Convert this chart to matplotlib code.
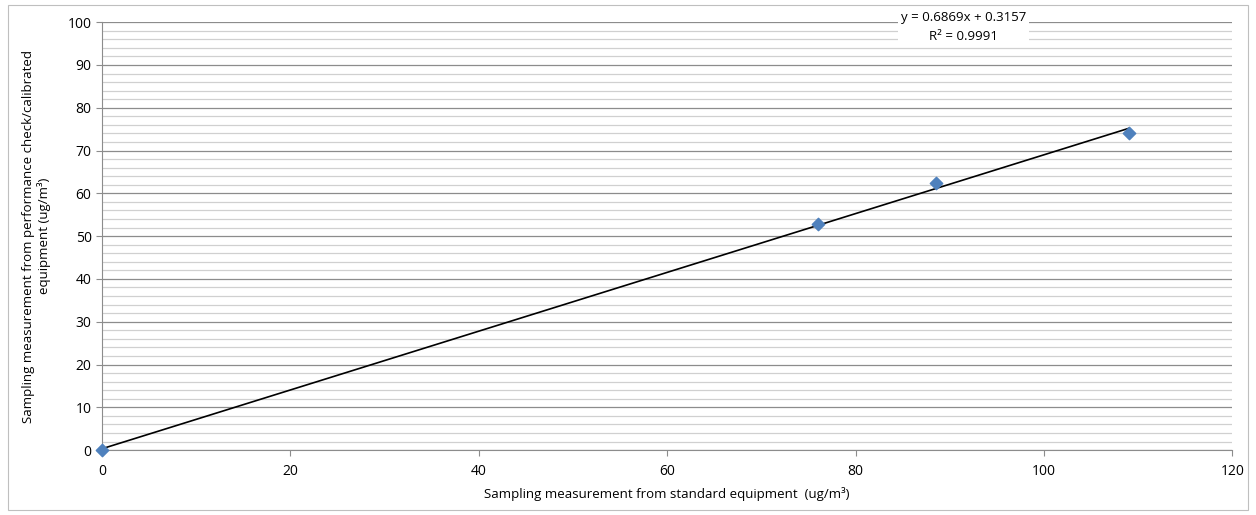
import numpy as np
import matplotlib
matplotlib.use('Agg')
import matplotlib.pyplot as plt
from matplotlib.patches import Rectangle

# data
std_vals = [0, 76.0, 88.5, 109.0]
check_vals = [0, 52.9, 62.3, 74.1]
slope = 0.6869
intercept = 0.3157
r2 = 0.9991

plt.rcParams['font.family'] = ['Open Sans', 'DejaVu Sans']

fig = plt.figure(figsize=(12.56, 5.15), dpi=100)
ax = fig.add_axes([0.0812, 0.126, 0.9, 0.831])

# outer chart border
fig.patches.append(Rectangle((0.006, 0.01), 0.988, 0.98, transform=fig.transFigure,
                             fill=False, edgecolor='#bfbfbf', linewidth=0.8))

xs = np.array([0, max(std_vals)])
ax.plot(xs, slope * xs + intercept, color='black', linewidth=1.2, zorder=3)
ax.scatter(std_vals, check_vals, marker='D', s=40, color='#4F81BD', zorder=4, clip_on=False)

ax.set_xlim(0, 120)
ax.set_ylim(0, 100)
ax.set_xticks(range(0, 121, 20))
ax.set_yticks(range(0, 101, 10))
ax.set_yticks(np.arange(0, 101, 2), minor=True)
ax.grid(axis='y', which='major', color='#8c8c8c', linewidth=0.9)
ax.grid(axis='y', which='minor', color='#d0d0d0', linewidth=0.9)
ax.set_axisbelow(True)
for s in ['top', 'right']:
    ax.spines[s].set_visible(False)
for s in ['left', 'bottom']:
    ax.spines[s].set_color('#8c8c8c')
ax.tick_params(axis='both', which='major', length=4, color='#8c8c8c', labelsize=10)
ax.tick_params(axis='y', which='minor', length=0)
ax.tick_params(axis='x', pad=6)

ax.set_xlabel('Sampling measurement from standard equipment  (ug/m³)', fontsize=9.5, labelpad=6)
ax.set_ylabel('Sampling measurement from performance check/calibrated\nequipment (ug/m³)',
              fontsize=9.5, labelpad=12)

eq_text = f'y = {slope:.4f}x + {intercept:.4f}\nR² = {r2:.4f}'
ax.text(0.762, 0.988, eq_text,
        transform=ax.transAxes, ha='center', va='center', fontsize=9.5, linespacing=1.6,
        bbox=dict(facecolor='white', edgecolor='none', pad=2))

fig.savefig('out.png', dpi=100)
